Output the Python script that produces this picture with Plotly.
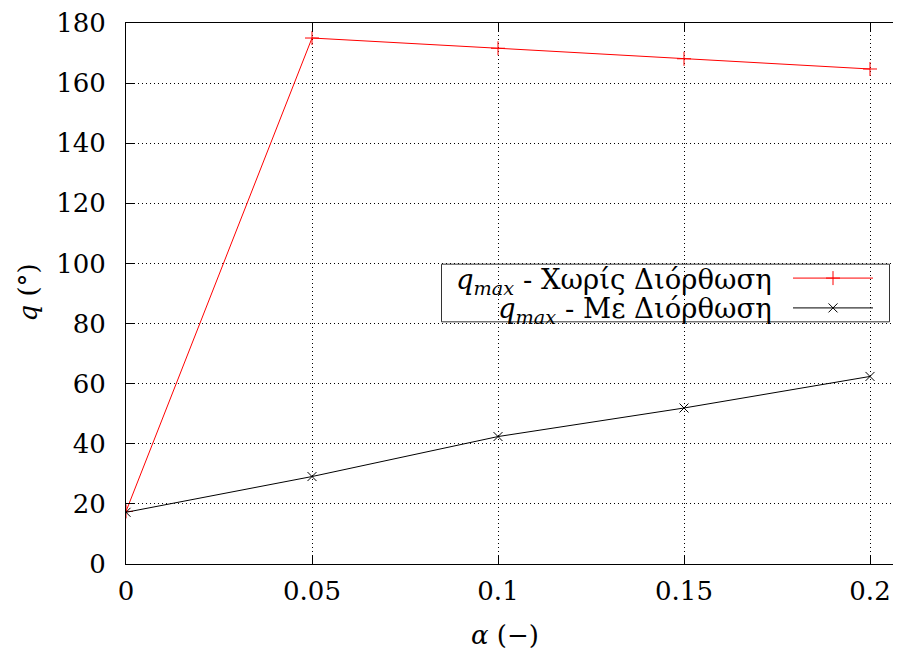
import plotly.graph_objects as go

alpha = [0, 0.05, 0.1, 0.15, 0.2]
q_no_corr = [17.5, 175.0, 171.6, 168.1, 164.7]
q_corr = [17.2, 29.1, 42.4, 51.9, 62.4]
x_ticks = [0, 0.05, 0.1, 0.15, 0.2]
x_ticklabels = ["0", "0.05", "0.1", "0.15", "0.2"]
y_ticks = [0, 20, 40, 60, 80, 100, 120, 140, 160, 180]
label_no_corr = "<i>q</i><sub><i>max</i></sub> - Χωρίς Διόρθωση"
label_corr = "<i>q</i><sub><i>max</i></sub> - Με Διόρθωση"

FONT = "DejaVu Serif"
FS = 26
LFS = 27.5
OFF = 8  # page body margin
PAGE_W, PAGE_H = 901, 657
W, H = PAGE_W - OFF, PAGE_H - OFF
# plot area in page pixels: left 126, right 901 (cropped), top 20, bottom 564
L, T = 126 - OFF, 20 - OFF
R = 0
B = H - (564 - OFF)
PW = W - L - R
PH = H - T - B


def px(xp):
    return (xp - OFF - L) / PW


def py(yp):
    return (H - B - (yp - OFF)) / PH


fig = go.Figure()
fig.add_trace(go.Scatter(x=alpha, y=q_no_corr, mode="lines+markers",
                         line=dict(color="#ff0000", width=1),
                         marker=dict(symbol="cross-thin", size=10,
                                     line=dict(color="#ff0000", width=1)),
                         showlegend=False))
fig.add_trace(go.Scatter(x=alpha, y=q_corr, mode="lines+markers",
                         line=dict(color="#000000", width=1),
                         marker=dict(symbol="x-thin", size=9,
                                     line=dict(color="#000000", width=1)),
                         showlegend=False))

# legend samples (custom legend, gnuplot style)
fig.add_trace(go.Scatter(x=[px(793), px(873)], y=[py(276.5)] * 2,
                         xaxis="x2", yaxis="y2", mode="lines",
                         line=dict(color="#ff0000", width=1), showlegend=False))
fig.add_trace(go.Scatter(x=[px(833)], y=[py(276.5)], xaxis="x2", yaxis="y2",
                         mode="markers",
                         marker=dict(symbol="cross-thin", size=10,
                                     line=dict(color="#ff0000", width=1)),
                         showlegend=False))
fig.add_trace(go.Scatter(x=[px(793), px(873)], y=[py(306.5)] * 2,
                         xaxis="x2", yaxis="y2", mode="lines",
                         line=dict(color="#000000", width=1), showlegend=False))
fig.add_trace(go.Scatter(x=[px(833)], y=[py(306.5)], xaxis="x2", yaxis="y2",
                         mode="markers",
                         marker=dict(symbol="x-thin", size=9,
                                     line=dict(color="#000000", width=1)),
                         showlegend=False))

x_max = 0.2 + (PAGE_W - 870) / (870 - 126) * 0.2

fig.update_layout(
    width=W, height=H,
    margin=dict(l=L, r=R, t=T, b=B, pad=0),
    paper_bgcolor="white", plot_bgcolor="white",
    font=dict(family=FONT, size=FS, color="black"),
    xaxis=dict(range=[0, x_max], tickvals=x_ticks, ticktext=x_ticklabels,
               showline=True, linecolor="black", linewidth=1, mirror="ticks",
               ticks="inside", ticklen=9, tickcolor="black",
               showgrid=True, gridcolor="black", gridwidth=1, griddash="1px,3px",
               zeroline=False, ticklabelstandoff=4, ticklabeloverflow="allow",
               tickfont=dict(family=FONT, size=FS)),
    yaxis=dict(range=[0, 180], tickvals=y_ticks,
               showline=True, linecolor="black", linewidth=1, mirror=False,
               ticks="inside", ticklen=9, tickcolor="black",
               showgrid=True, gridcolor="black", gridwidth=1, griddash="1px,3px",
               zeroline=False, ticklabelstandoff=14, ticklabeloverflow="allow",
               tickfont=dict(family=FONT, size=FS)),
    xaxis2=dict(overlaying="x", range=[0, 1], visible=False),
    yaxis2=dict(overlaying="y", range=[0, 1], visible=False),
    shapes=[dict(type="rect", xref="paper", yref="paper",
                 x0=px(441.5), x1=px(889.5), y0=py(320.5), y1=py(262.5),
                 line=dict(color="#333333", width=1), fillcolor="white",
                 layer="between")],
    annotations=[
        dict(text=label_no_corr, xref="paper", yref="paper",
             x=px(774), y=py(280), xanchor="right", yanchor="middle",
             showarrow=False, font=dict(family=FONT, size=LFS)),
        dict(text=label_corr, xref="paper", yref="paper",
             x=px(774), y=py(309), xanchor="right", yanchor="middle",
             showarrow=False, font=dict(family=FONT, size=LFS)),
        dict(text="<i>α</i> (−)", xref="paper", yref="paper",
             x=px(505), y=py(635), xanchor="center", yanchor="middle",
             showarrow=False, font=dict(family=FONT, size=FS)),
        dict(text="<i>q</i> (°)", xref="paper", yref="paper",
             x=px(28), y=py(291), xanchor="center", yanchor="middle",
             textangle=-90, showarrow=False, font=dict(family=FONT, size=FS)),
    ],
)

fig.write_html("out.html")
